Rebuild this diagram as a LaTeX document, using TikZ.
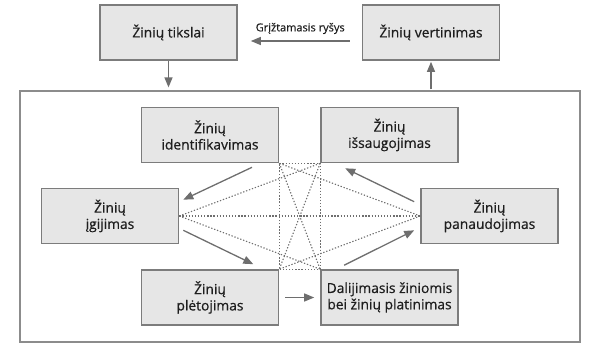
\documentclass[tikz,border=0pt]{standalone}
\usepackage{fontspec}
\setmainfont{Open Sans}[FakeBold=0.6]
\newfontfamily\labelfont{Open Sans}[FakeBold=0.4]
\usetikzlibrary{arrows.meta,positioning,calc}
\definecolor{boxfill}{HTML}{E6E6E6}
\definecolor{boxline}{HTML}{7C7C7C}
\definecolor{arrowcol}{HTML}{6E6E6E}
\definecolor{txt}{HTML}{1E1E1E}
\definecolor{framecol}{HTML}{8C8C8C}
\tikzset{
  kbox/.style={draw=boxline, fill=boxfill, line width=1.6pt, minimum width=137pt,
    minimum height=55pt, inner sep=0pt, align=center, text=txt,
    font=\fontsize{13.8}{16.3}\selectfont},
  arr/.style={draw=arrowcol, line width=1.3pt, -{Triangle[length=10pt,width=8pt]}},
  dots/.style={draw=arrowcol, line width=1.1pt, dash pattern=on 1.3pt off 1.8pt},
}
\begin{document}
\begin{tikzpicture}[x=1pt,y=-1pt]
\useasboundingbox (0,0) rectangle (600,356);
% frame
\node[draw=framecol, line width=1.2pt, minimum width=560pt, minimum height=251pt, inner sep=0pt] (frame) at (300,216.5) {};
% top boxes
\node[kbox] (tikslai) at (168.5,32.5) {Žinių tikslai};
\node[kbox] (vert) at (431,32.5) {Žinių vertinimas};
% inner boxes
\node[kbox] (ident) at (210,135) {Žinių\\identifikavimas};
\node[kbox] (iss) at (389.5,135) {Žinių\\išsaugojimas};
\node[kbox] (igij) at (110,216) {Žinių\\įgijimas};
\node[kbox] (pan) at (489.5,216) {Žinių\\panaudojimas};
\node[kbox] (plet) at (210,297.5) {Žinių\\plėtojimas};
\node[kbox] (dal) at (389.5,297.5) {Dalijimasis žiniomis\\bei žinių platinimas};
% top arrows
\draw[arr] (tikslai.south) -- ([yshift=3pt]tikslai.south |- frame.north);
\draw[arr] ([yshift=1pt]vert.south |- frame.north) -- ([yshift=-1pt]vert.south);
\draw[arr] ([xshift=-12pt,yshift=-8.5pt]vert.west) -- ([xshift=13pt,yshift=-8.5pt]tikslai.east)
  node[midway, above=3pt, text=txt, font=\labelfont\fontsize{11}{13}\selectfont] (fb) {Grįžtamasis ryšys};
% dotted network
\draw[dots] (ident.south east) -- (iss.south west) -- (dal.north west) -- (plet.north east) -- cycle;
\draw[dots] (ident.south east) -- (dal.north west);
\draw[dots] (iss.south west) -- (plet.north east);
\draw[dots] (igij.east) -- (iss.south west);
\draw[dots] (igij.east) -- (dal.north west);
\draw[dots] (igij.east) -- (pan.west);
\draw[dots] (pan.west) -- (ident.south east);
\draw[dots] (pan.west) -- (plet.north east);
% cycle arrows
\draw[arr] ([xshift=42pt,yshift=-4pt]ident.south) -- ([xshift=4pt,yshift=-12pt]igij.north east);
\draw[arr] ([xshift=4pt,yshift=14pt]igij.south east) -- ([xshift=-26pt,yshift=5pt]plet.north east);
\draw[arr] ([xshift=6pt]plet.east) -- ([xshift=-6pt]dal.west);
\draw[arr] ([xshift=24pt,yshift=4pt]dal.north west) -- ([xshift=-6pt,yshift=14pt]pan.south west);
\draw[arr] ([xshift=-6pt,yshift=-14pt]pan.north west) -- ([xshift=25pt,yshift=-5pt]iss.south west);
\end{tikzpicture}
\end{document}
